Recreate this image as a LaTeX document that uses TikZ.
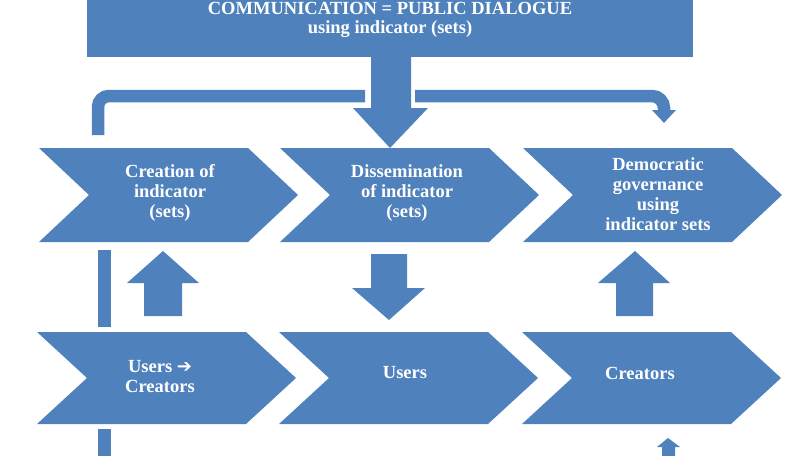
\documentclass[tikz,border=0pt]{standalone}
\usepackage{fontspec}
\setmainfont{Liberation Serif}
\newfontfamily\symfont{DejaVu Sans}
\definecolor{ublue}{RGB}{79,129,189}
\tikzset{
  blk/.style={fill=ublue},
  lbl/.style={text=white, font=\fontsize{18.5}{20}\selectfont\bfseries, align=center, inner sep=0pt},
  bar/.style={draw=ublue, line width=12.5pt}
}
\newcommand{\chevshape}[3]{% x, ytop, h
  \fill[blk] (#1,#2) -- ++(209,0) -- ++(50,#3/2) -- ++(-50,#3/2) -- ++(-209,0) -- ++(50,-#3/2) -- cycle;}
\begin{document}
\begin{tikzpicture}[x=1pt,y=-1pt]
\useasboundingbox (0,0) rectangle (808,455);
\clip (0,0) rectangle (808,455);
% top box with down arrow
\fill[blk] (87,-10) rectangle (693,57);
\fill[blk] (371,50) -- (411,50) -- (411,108) -- (428,108) -- (390,148) -- (353,108) -- (371,108) -- cycle;
\node[lbl, font=\fontsize{18.5}{19}\selectfont\bfseries] (title) at (390,20) {COMMUNICATION = PUBLIC DIALOGUE\\using indicator (sets)};
% bent arrows
\draw[bar, rounded corners=11pt] (365,96) -- (98,96) -- (98,135);
\draw[bar] (415,96) -- (652,96) arc[start angle=-90, end angle=0, radius=12] -- (664,112);
\fill[blk] (652,110) -- (676,110) -- (664,123) -- cycle;
% chevrons row 1
\chevshape{39}{148}{94}
\chevshape{280}{148}{94}
\chevshape{523}{148}{94}
\node[lbl] (c1) at (170,193) {Creation of\\indicator\\(sets)};
\node[lbl] (c2) at (407,193) {Dissemination\\of indicator\\(sets)};
\node[lbl] (c3) at (658,194.5) {Democratic\\governance\\using\\indicator sets};
% chevrons row 2
\chevshape{37}{332}{92}
\chevshape{279}{332}{92}
\chevshape{522}{332}{92}
\node[lbl] (u1) at (160,377) {Users {\symfont\bfseries\fontsize{18}{20}\selectfont ➔}\\Creators};
\node[lbl] (u2) at (405,373) {Users};
\node[lbl] (u3) at (640,373) {Creators};
% vertical bars
\fill[blk] (98,250) rectangle (111,327);
\fill[blk] (98,429) rectangle (111,460);
% block arrows between rows
\fill[blk] (163,251) -- (199,283) -- (182,283) -- (182,316) -- (144,316) -- (144,283) -- (127,283) -- cycle;
\fill[blk] (371,254) -- (407,254) -- (407,288) -- (425,288) -- (389,320) -- (352,288) -- (371,288) -- cycle;
\fill[blk] (635,251) -- (670,283) -- (653,283) -- (653,316) -- (616,316) -- (616,283) -- (598,283) -- cycle;
\fill[blk] (668,438) -- (680,447) -- (675,447) -- (675,460) -- (662,460) -- (662,447) -- (657,447) -- cycle;
\end{tikzpicture}
\end{document}
